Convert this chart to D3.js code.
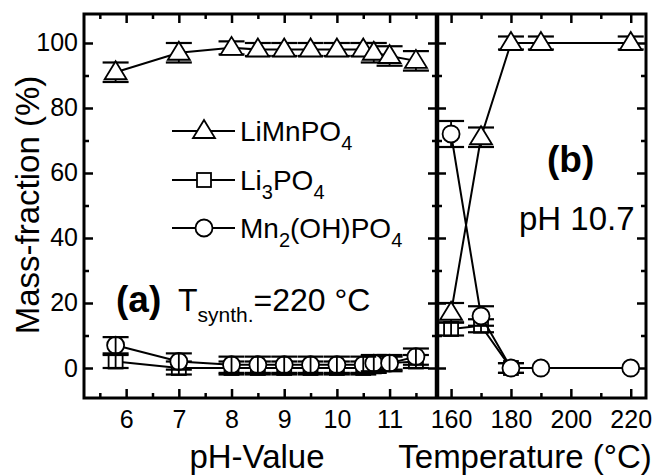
<!DOCTYPE html>
<html lang="en">
<head>
<meta charset="UTF-8">
<script src="https://d3js.org/d3.v7.min.js"></script>
<title>Mass-fraction vs pH and temperature</title>
<style>
  body { margin: 0; background: #fff; }
  svg { display: block; font-family: "Liberation Sans", Arial, sans-serif; }
</style>
</head>
<body>
<div id="chart"></div>
<script>
// panel (a): pH series
var phVals      = [5.8, 7, 8, 8.5, 9, 9.5, 10, 10.5, 10.7, 11, 11.5];
var limnPh      = [91, 97, 98.5, 98, 98, 98, 98, 98, 97, 96, 94.5];
var limnPhErr   = [3, 3, 2, 2, 2, 2, 2, 2, 3, 3, 3];
var li3Ph       = [2, 0, 0, 0, 0, 0, 0, 0, 0.5, 1.5, 2];
var li3PhErr    = [2, 2, 2, 2, 2, 2, 2, 2, 2, 2, 2];
var mn2Ph       = [7, 2, 1, 1, 1, 1, 1, 1, 1.5, 1.5, 3.5];
var mn2PhErr    = [2.5, 2.5, 2.5, 2.5, 2.5, 2.5, 2.5, 2.5, 2.5, 2.5, 2.5];

// panel (b): temperature series (pH 10.7)
var tVals       = [160, 170, 180, 190, 220];
var limnT       = [17, 71, 100, 100, 100];
var limnTErr    = [3, 3, 2, 2, 2];
var li3TVals    = [160, 170, 180];
var li3T        = [12, 13, 0];
var li3TErr     = [2, 2, 1.5];
var mn2T        = [72, 16, 0, 0, 0];
var mn2TErr     = [4, 3, 1.5, 0, 0];

var yTicks  = [0, 20, 40, 60, 80, 100];
var phTicks = [6, 7, 8, 9, 10, 11];
var tTicks  = [160, 180, 200, 220];

var W = 654, H = 475;
var pTop = 14, pBottom = 398, pLeft = 84, pMid = 437, pRight = 646;

var svg = d3.select("#chart").append("svg")
  .attr("width", W).attr("height", H);

var y = d3.scaleLinear().domain([-9.23, 108.92]).range([pBottom, pTop]);
var xL = d3.scaleLinear().domain([5.2, 11.9]).range([pLeft, pMid]);
var xR = d3.scaleLinear().domain([155.3, 225.1]).range([pMid, pRight]);

function pack(xs, ys, es) {
  return xs.map(function (d, i) { return { x: d, y: ys[i], e: es[i] }; });
}

// ---- axes (inward ticks) ----
function styleAxis(g) {
  g.select(".domain").remove();
  g.selectAll(".tick line").attr("stroke", "#000").attr("stroke-width", 2.5);
  g.selectAll(".tick text").attr("font-size", 25).attr("fill", "#000")
    .attr("font-family", "Liberation Sans, Arial, sans-serif");
}

function xAxes(scale, major, minor) {
  svg.append("g").attr("transform", "translate(0," + pBottom + ")")
    .call(d3.axisBottom(scale).tickValues(major).tickSize(-9).tickPadding(12).tickFormat(d3.format("d")))
    .call(styleAxis);
  svg.append("g").attr("transform", "translate(0," + pBottom + ")")
    .call(d3.axisBottom(scale).tickValues(minor).tickSize(-5).tickFormat(""))
    .call(styleAxis);
  svg.append("g").attr("transform", "translate(0," + pTop + ")")
    .call(d3.axisTop(scale).tickValues(major).tickSize(-9).tickFormat(""))
    .call(styleAxis);
  svg.append("g").attr("transform", "translate(0," + pTop + ")")
    .call(d3.axisTop(scale).tickValues(minor).tickSize(-5).tickFormat(""))
    .call(styleAxis);
}

xAxes(xL, phTicks, [5.5, 6.5, 7.5, 8.5, 9.5, 10.5, 11.5]);
xAxes(xR, tTicks, [170, 190, 210]);

var yMinor = [10, 30, 50, 70, 90];
svg.append("g").attr("transform", "translate(" + pLeft + ",0)")
  .call(d3.axisLeft(y).tickValues(yTicks).tickSize(-9).tickPadding(6))
  .call(styleAxis);
svg.append("g").attr("transform", "translate(" + pLeft + ",0)")
  .call(d3.axisLeft(y).tickValues(yMinor).tickSize(-5).tickFormat(""))
  .call(styleAxis);
// divider ticks on both sides, right frame ticks inward
[[pMid, 9, 5], [pMid, -9, -5], [pRight, 9, 5]].forEach(function (a) {
  svg.append("g").attr("transform", "translate(" + a[0] + ",0)")
    .call(d3.axisRight(y).tickValues(yTicks).tickSize(-a[1]).tickFormat(""))
    .call(styleAxis);
  svg.append("g").attr("transform", "translate(" + a[0] + ",0)")
    .call(d3.axisRight(y).tickValues(yMinor).tickSize(-a[2]).tickFormat(""))
    .call(styleAxis);
});

// frame
svg.append("rect").attr("x", pLeft).attr("y", pTop)
  .attr("width", pRight - pLeft).attr("height", pBottom - pTop)
  .attr("fill", "none").attr("stroke", "#000").attr("stroke-width", 3);
svg.append("line").attr("x1", pMid).attr("x2", pMid).attr("y1", pTop).attr("y2", pBottom)
  .attr("stroke", "#000").attr("stroke-width", 4.5);

// ---- markers ----
function drawMarker(g, type, cx, cy) {
  if (type === "tri") {
    g.append("path").attr("d", "M0,-11L11,7L-11,7Z")
      .attr("transform", "translate(" + cx + "," + cy + ")")
      .attr("fill", "#fff").attr("stroke", "#000").attr("stroke-width", 1.8);
  } else if (type === "sq") {
    g.append("rect").attr("x", cx - 7).attr("y", cy - 7).attr("width", 14).attr("height", 14)
      .attr("fill", "#fff").attr("stroke", "#000").attr("stroke-width", 1.8);
  } else {
    g.append("circle").attr("cx", cx).attr("cy", cy).attr("r", 8.5)
      .attr("fill", "#fff").attr("stroke", "#000").attr("stroke-width", 1.8);
  }
}

function errBars(g, data, xs) {
  data.forEach(function (d) {
    if (!d.e) return;
    var cx = xs(d.x), y1 = y(d.y - d.e), y2 = y(d.y + d.e);
    g.append("line").attr("x1", cx).attr("x2", cx).attr("y1", y1).attr("y2", y2)
      .attr("stroke", "#000").attr("stroke-width", 1.8);
    [y1, y2].forEach(function (yy) {
      g.append("line").attr("x1", cx - 13).attr("x2", cx + 13).attr("y1", yy).attr("y2", yy)
        .attr("stroke", "#000").attr("stroke-width", 2.2);
    });
  });
}

function series(data, xs, type, errOnTop) {
  var g = svg.append("g");
  g.append("path").datum(data)
    .attr("d", d3.line().x(function (d) { return xs(d.x); }).y(function (d) { return y(d.y); }))
    .attr("fill", "none").attr("stroke", "#000").attr("stroke-width", 2);
  if (!errOnTop) errBars(g, data, xs);
  data.forEach(function (d) { drawMarker(g, type, xs(d.x), y(d.y)); });
  if (errOnTop) errBars(g, data, xs);
}

series(pack(phVals, li3Ph, li3PhErr), xL, "sq", true);
series(pack(phVals, mn2Ph, mn2PhErr), xL, "circ", true);
series(pack(phVals, limnPh, limnPhErr), xL, "tri", false);

series(pack(li3TVals, li3T, li3TErr), xR, "sq", true);
series(pack(tVals, mn2T, mn2TErr), xR, "circ", false);
series(pack(tVals, limnT, limnTErr), xR, "tri", false);

// ---- legend ----
var legend = [
  { type: "tri", parts: [["LiMnPO", 0], ["4", 1]] },
  { type: "sq", parts: [["Li", 0], ["3", 1], ["PO", 0], ["4", 1]] },
  { type: "circ", parts: [["Mn", 0], ["2", 1], ["(OH)PO", 0], ["4", 1]] }
];
var legY = [131, 180, 228];

function subText(x, yy, parts, size, subSize, shift) {
  var t = svg.append("text").attr("x", x).attr("y", yy).attr("font-size", size).attr("fill", "#000");
  var down = false;
  parts.forEach(function (p) {
    var s = t.append("tspan").text(p[0]);
    if (p[1]) {
      s.attr("font-size", subSize).attr("dy", down ? 0 : shift);
      down = true;
    } else {
      if (down) s.attr("dy", -shift);
      down = false;
    }
  });
  return t;
}

legend.forEach(function (l, i) {
  var ly = legY[i];
  svg.append("line").attr("x1", 172).attr("x2", 235).attr("y1", ly).attr("y2", ly)
    .attr("stroke", "#000").attr("stroke-width", 2);
  drawMarker(svg, l.type, 204, ly);
  subText(240, ly + 10, l.parts, 28, 20, 9);
});

// ---- annotations ----
svg.append("text").attr("x", 116).attr("y", 312).attr("font-size", 37)
  .attr("font-weight", "bold").text("(a)");
subText(178, 311, [["T", 0], ["synth.", 1], ["=220 °C", 0]], 32, 21, 11);

svg.append("text").attr("x", 547).attr("y", 172).attr("font-size", 37)
  .attr("font-weight", "bold").text("(b)");
svg.append("text").attr("x", 519).attr("y", 230).attr("font-size", 33).text("pH 10.7");

// axis titles
svg.append("text").attr("transform", "translate(39,205) rotate(-90)")
  .attr("text-anchor", "middle").attr("font-size", 33).text("Mass-fraction (%)");
svg.append("text").attr("x", 257).attr("y", 468).attr("text-anchor", "middle")
  .attr("font-size", 33).text("pH-Value");
svg.append("text").attr("x", 525).attr("y", 468).attr("text-anchor", "middle")
  .attr("font-size", 33).text("Temperature (°C)");
</script>
</body>
</html>
